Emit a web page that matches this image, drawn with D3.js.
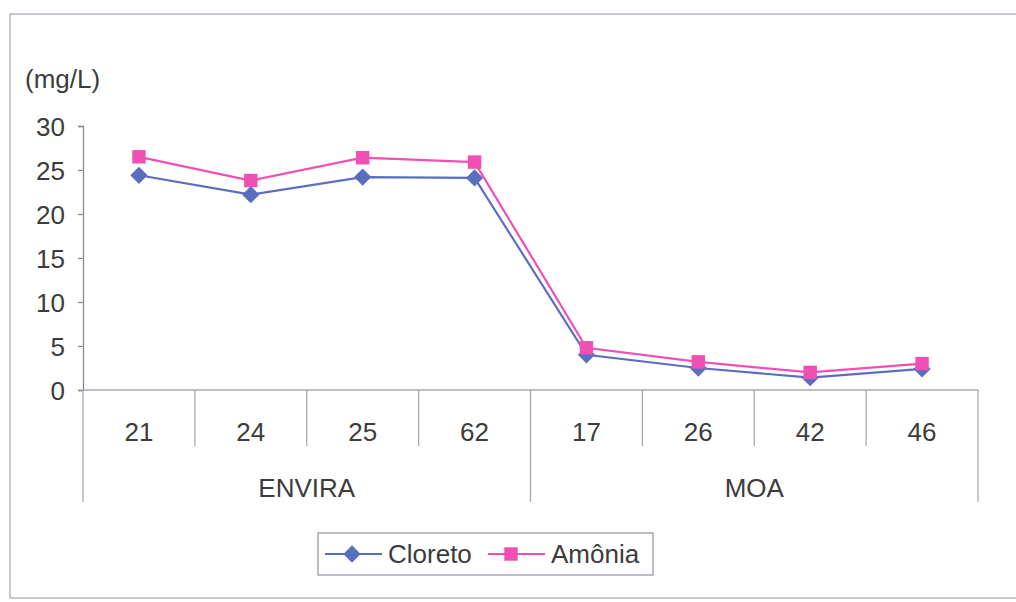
<!DOCTYPE html>
<html>
<head>
<meta charset="utf-8">
<script src="https://cdn.jsdelivr.net/npm/d3@7"></script>
<style>
  body { margin: 0; background: #fff; }
  text { font-family: "Liberation Sans", Arial, sans-serif; fill: #3c3c3c; }
</style>
</head>
<body>
<svg></svg>
<script>
var screen = {width: 1016, height: 602};
var margins = {top: 126, right: 38, bottom: 212, left: 83};

// data
var sites = ["21", "24", "25", "62", "17", "26", "42", "46"];
var groups = ["ENVIRA", "MOA"];
var siteGroup = ["ENVIRA", "ENVIRA", "ENVIRA", "ENVIRA", "MOA", "MOA", "MOA", "MOA"];
var cloreto = [24.4, 22.2, 24.2, 24.1, 4.0, 2.5, 1.4, 2.4];
var amonia = [26.5, 23.8, 26.4, 25.9, 4.8, 3.2, 2.0, 3.0];
var yTicks = [0, 5, 10, 15, 20, 25, 30];
var seriesNames = ["Cloreto", "Amônia"];

var colors = {Cloreto: "#5a6ec0", "Amônia": "#f050b4"};
var fontSize = "26px";

var svg = d3.select("svg")
    .attr("width", screen.width)
    .attr("height", screen.height);

// outer frame
svg.append("rect")
    .attr("x", 10).attr("y", 14)
    .attr("width", 1016).attr("height", 584)
    .attr("fill", "none")
    .attr("stroke", "#b8b8c4")
    .attr("stroke-width", 1.5);

var width = screen.width - margins.left - margins.right;   // 895
var height = screen.height - margins.top - margins.bottom; // 264

var g = svg.append("g")
    .attr("transform", "translate(" + margins.left + "," + margins.top + ")");

var xScale = d3.scaleBand()
    .domain(sites.map(function(d, i) { return i; }))
    .range([0, width]);

var yScale = d3.scaleLinear()
    .domain([0, 30])
    .range([height, 0]);

// y axis
var yAxis = d3.axisLeft(yScale)
    .tickValues(yTicks)
    .tickSize(5)
    .tickPadding(13);

var yG = g.append("g").call(yAxis);
yG.select(".domain").attr("stroke", "#8a8a95").attr("stroke-width", 1.3);
yG.selectAll(".tick line").attr("stroke", "#8a8a95").attr("stroke-width", 1.3);
yG.selectAll(".tick text")
    .style("font-size", fontSize)
    .attr("fill", "#3c3c3c")
    .attr("dy", "0.36em");

g.append("text")
    .attr("x", -58).attr("y", -38)
    .style("font-size", fontSize)
    .text("(mg/L)");

// x axis line + category table
var axisColor = "#a8a8b2";
g.append("line")
    .attr("x1", 0).attr("x2", width)
    .attr("y1", height).attr("y2", height)
    .attr("stroke", axisColor).attr("stroke-width", 1.5);

// dividers between sites
d3.range(1, sites.length).forEach(function(i) {
    if (siteGroup[i] !== siteGroup[i - 1]) return;
    g.append("line")
        .attr("x1", xScale(i)).attr("x2", xScale(i))
        .attr("y1", height).attr("y2", height + 56)
        .attr("stroke", axisColor).attr("stroke-width", 1.3);
});

// dividers between groups
var groupEdges = [0, 4, 8];
groupEdges.forEach(function(i) {
    var x = i < sites.length ? xScale(i) : width;
    g.append("line")
        .attr("x1", x).attr("x2", x)
        .attr("y1", height).attr("y2", height + 112)
        .attr("stroke", axisColor).attr("stroke-width", 1.3);
});

g.selectAll(".site")
    .data(sites)
    .enter()
    .append("text")
    .attr("x", function(d, i) { return xScale(i) + xScale.bandwidth() / 2; })
    .attr("y", height + 51)
    .attr("text-anchor", "middle")
    .style("font-size", fontSize)
    .text(function(d) { return d; });

g.selectAll(".group")
    .data(groups)
    .enter()
    .append("text")
    .attr("x", function(d) {
        var idx = siteGroup.map(function(s, i) { return s === d ? i : -1; }).filter(function(i) { return i >= 0; });
        return (xScale(idx[0]) + xScale(idx[idx.length - 1]) + xScale.bandwidth()) / 2;
    })
    .attr("y", height + 107)
    .attr("text-anchor", "middle")
    .style("font-size", fontSize)
    .text(function(d) { return d; });

// lines
var series = [{name: "Cloreto", values: cloreto}, {name: "Amônia", values: amonia}];

var line = d3.line()
    .x(function(d, i) { return xScale(i) + xScale.bandwidth() / 2; })
    .y(function(d) { return yScale(d); });

var symbolFor = function(name) {
    return name === "Cloreto"
        ? d3.symbol().type(d3.symbolDiamond2).size(190)
        : d3.symbol().type(d3.symbolSquare2).size(230);
};

series.forEach(function(s, k) {
    g.append("path")
        .datum(s.values)
        .attr("d", line)
        .attr("fill", "none")
        .attr("stroke", colors[s.name])
        .attr("stroke-width", 2.2);

    g.selectAll(".pt" + k)
        .data(s.values)
        .enter()
        .append("path")
        .attr("class", "pt" + k)
        .attr("d", symbolFor(s.name))
        .attr("transform", function(d, i) {
            return "translate(" + (xScale(i) + xScale.bandwidth() / 2) + "," + yScale(d) + ")";
        })
        .attr("fill", colors[s.name]);
});

// legend
var legend = svg.append("g").attr("transform", "translate(318,533)");
legend.append("rect")
    .attr("width", 335).attr("height", 42)
    .attr("fill", "#fff")
    .attr("stroke", "#9a9aa8").attr("stroke-width", 1.3);

var legX = [7, 170];
seriesNames.forEach(function(name, i) {
    var lg = legend.append("g").attr("transform", "translate(" + legX[i] + ",21)");
    lg.append("line")
        .attr("x1", 0).attr("x2", 57)
        .attr("stroke", colors[name]).attr("stroke-width", 2.2);
    lg.append("path")
        .attr("d", symbolFor(name))
        .attr("transform", "translate(" + (i === 0 ? 27 : 23) + ",0)")
        .attr("fill", colors[name]);
    lg.append("text")
        .attr("x", 63).attr("y", 9)
        .style("font-size", fontSize)
        .text(name);
});
</script>
</body>
</html>
